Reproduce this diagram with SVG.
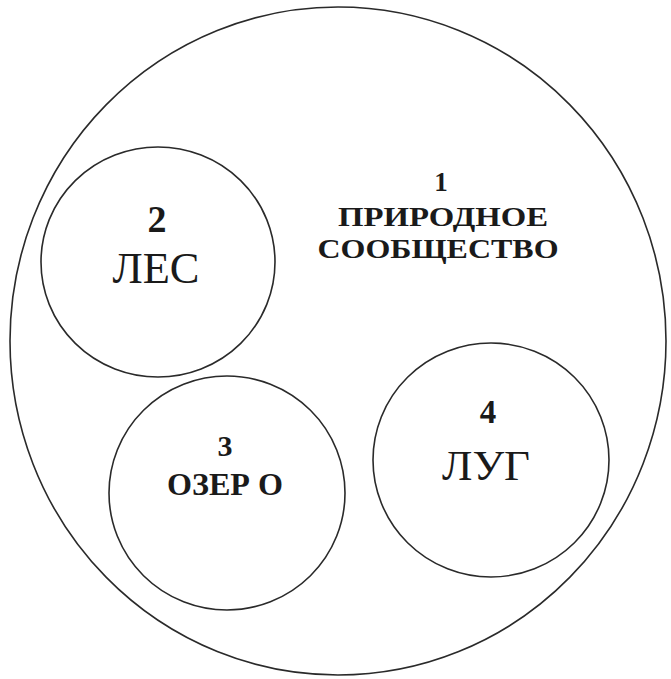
<svg xmlns="http://www.w3.org/2000/svg" width="671" height="679" viewBox="0 0 671 679">
<style>
.c{fill:none;stroke:#2a2a2a;stroke-width:1.6}
.t{font-family:"Liberation Serif","Times New Roman",serif;fill:#1a1a1a;text-anchor:middle}
.b{font-weight:bold}
</style>
<rect width="671" height="679" fill="#ffffff"/>
<g id="node1">
<ellipse class="c" cx="338" cy="341" rx="328" ry="334"/>
<text class="t b" x="441" y="191" font-size="27">1</text>
<text class="t b" x="443" y="226" font-size="27" textLength="210" lengthAdjust="spacingAndGlyphs">ПРИРОДНОЕ</text>
<text class="t b" x="438" y="258" font-size="27" textLength="241" lengthAdjust="spacingAndGlyphs">СООБЩЕСТВО</text>
</g>
<g id="node2">
<ellipse class="c" cx="158" cy="262" rx="117" ry="115"/>
<text class="t b" x="157" y="232" font-size="38">2</text>
<text class="t" x="156" y="283" font-size="44" textLength="87" lengthAdjust="spacingAndGlyphs">ЛЕС</text>
</g>
<g id="node3">
<ellipse class="c" cx="227" cy="493" rx="118" ry="117"/>
<text class="t b" x="225" y="456" font-size="30">3</text>
<text class="t b" x="225" y="495" font-size="32" textLength="116" lengthAdjust="spacingAndGlyphs">ОЗЕР О</text>
</g>
<g id="node4">
<ellipse class="c" cx="491" cy="460" rx="118" ry="117"/>
<text class="t b" x="488" y="423" font-size="33">4</text>
<text class="t" x="486" y="480" font-size="43" textLength="88" lengthAdjust="spacingAndGlyphs">ЛУГ</text>
</g>
<g id="connectors"></g>
</svg>
